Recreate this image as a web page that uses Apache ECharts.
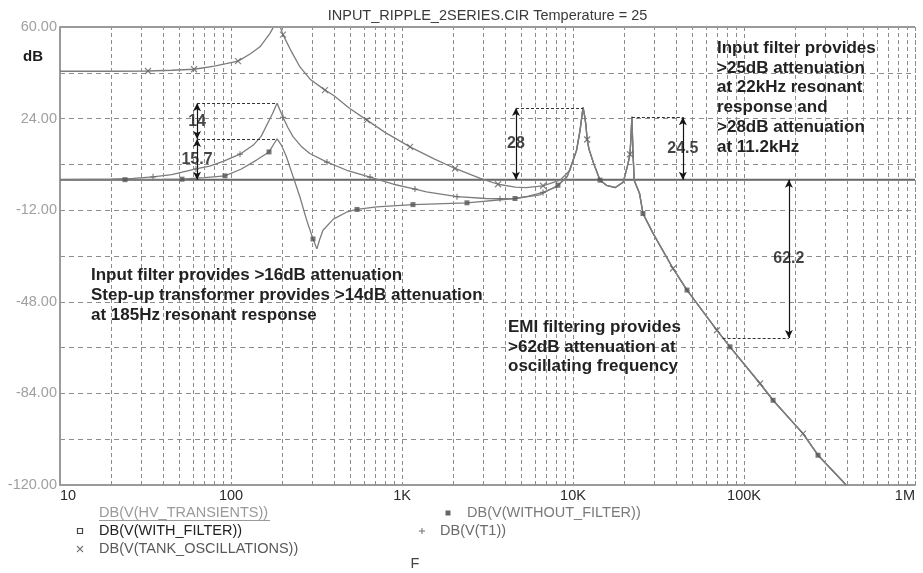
<!DOCTYPE html>
<html>
<head>
<meta charset="utf-8">
<script src="https://cdn.jsdelivr.net/npm/echarts@6/dist/echarts.min.js"></script>
<style>
html,body{margin:0;padding:0;background:#fff;}
#chart{width:923px;height:573px;}
</style>
</head>
<body>
<div id="chart"></div>
<script>
// ---------- DATA (frequency Hz, dB) ----------
const hvTransients = [[10, 0], [1000000, 0]];
const withFilter = [[10, 0], [1000000, 0]];

const tankHead = [[10,42.6],[20,42.6],[32.7,42.7],[45,43.0],[60.8,43.4],[80,44.6],[109.9,46.6],[130,49.5],[147.8,52.2],[169,57.5],[179,60.5],[186,64],[193,60.5],[201.4,57],[225,50.5],[253,44.3],[290,39.5],[354.6,35.2],[397,33.2],[495,28],[624,23.4],[800,18.5],[1114,12.9],[1530,8.3],[2042,4.4],[2870,0.5],[3642,-1.8],[4600,-2.9],[5300,-3.1],[6677,-2.4],[8400,-0.2],[9600,3.7]];

const t1Head = [[10,0],[20,0.2],[26.8,0.5],[35,1.1],[45,2.0],[62.4,4.2],[75,5.3],[90,7.2],[112.9,10],[135,13.6],[150,17],[161.7,21.4],[175,26],[186,30],[197,26],[201.4,24.5],[215,20.5],[231,16.8],[260,12.8],[289,10.3],[364,6.9],[476,3.7],[650,1.0],[891,-1.8],[1191,-3.7],[1390,-4.8],[2097,-6.7],[3100,-7.4],[3741,-7.5],[4600,-7.4],[5500,-6.5],[6677,-5.0],[8000,-2.8],[9200,0.9]];

const withoutHead = [[10,0],[24,0],[40,0.1],[51.7,0.2],[70,0.8],[92.2,1.5],[115,4.2],[141,7.7],[166.8,10.9],[180,14.5],[186,16],[197,13.6],[211,9],[231,1.1],[253,-6.8],[277,-15.9],[301.7,-23.3],[318,-27.2],[330,-23.5],[345,-19.9],[397,-15.5],[476,-12.7],[545.6,-11.7],[712,-10.7],[1159,-9.8],[2399,-9.1],[4580,-7.4],[6400,-6.0],[8166,-2.2],[9300,1.5]];

// shared high-frequency section where the three traces coincide
const sharedTail = [[10000,7.5],[10500,11.6],[11000,19.5],[11300,25.5],[11450,28.4],[11700,25],[11900,21.5],[12100,15.8],[12400,12],[13200,6.4],[14390,-0.2],[15700,-2.2],[17700,-3.1],[19700,-0.9],[21000,6.4],[21540,10],[21800,16],[22100,24.7],[22400,11.6],[22800,-0.2],[24500,-5.4],[25650,-13.3],[29400,-21.1],[38440,-34.9],[46440,-43.4],[69500,-59.2],[82800,-65.7],[124100,-80.1],[147900,-86.7],[221400,-99.8],[271000,-108.3],[396000,-120]];

// frequencies of the data points that carry a marker symbol
const tankMarks = [32.7,60.8,109.9,201.4,354.6,624,1114,2042,3642,6677,12100,21540,38440,69500,124100,221400];
const t1Marks = [35,62.4,112.9,201.4,364,650,1191,2097,3741,6677];
const withoutMarks = [24,51.7,92.2,166.8,301.7,545.6,1159,2399,4580,8166,14390,25650,46440,82800,147900,271000];

// axis ticks
const xTickLabels = {10:'10',100:'100',1000:'1K',10000:'10K',100000:'100K',1000000:'1M'};
const minorMultipliers = [2,3,4,5,6,7,8,9];
const decades = [10,100,1000,10000,100000];

// dimension annotations: [freq, dBtop, dBbottom, label, labelDb]
const dims = [[63.3,30,16,'14',23],[63.3,16,0,'15.7',8],[4640,28.2,0,'28',14],[43900,24.5,0,'24.5',12.25],[183000,0,-62.2,'62.2',-31.1]];
// dashed leaders: [freqFrom, freqTo, dB]
const leaders = [[63.3,186,30],[63.3,186,16],[4640,11450,28.2],[22100,43900,24.5],[75000,183000,-62.2]];

// ---------- BUILD ----------
const tank = tankHead.concat(sharedTail);
const t1 = t1Head.concat(sharedTail);
const without = withoutHead.concat(sharedTail);
const pick = (arr, marks) => arr.filter(p => marks.indexOf(p[0]) >= 0);

const LINE = '#7c7c7c';
const FONT = '"Liberation Sans", Arial, sans-serif';

const minorGrid = [];
decades.forEach(d => minorMultipliers.forEach(m => minorGrid.push({xAxis: d*m})));
minorGrid.push({xAxis: 1000000});

const chart = echarts.init(document.getElementById('chart'), null, {renderer:'canvas'});
const option = {
  animation: false,
  backgroundColor: '#fff',
  grid: {left: 60, right: 8, top: 27, bottom: 88, containLabel: false},
  xAxis: {
    type: 'log', logBase: 10, min: 10, max: 1000000,
    axisLine: {show: true, onZero: false, lineStyle: {color: '#9a9a9a', width: 2}},
    axisTick: {show: false},
    axisLabel: {
      color: '#2a2a2a', fontSize: 14.5, fontFamily: FONT, margin: 3,
      alignMinLabel: 'left', alignMaxLabel: 'right',
      formatter: v => xTickLabels[Math.round(v)] || ''
    },
    splitLine: {show: true, lineStyle: {color: '#8c8c8c', width: 1, type: [4,3]}},
    minorTick: {show: false}, minorSplitLine: {show: false}
  },
  yAxis: {
    type: 'value', min: -120, max: 60, interval: 18,
    axisLine: {show: true, lineStyle: {color: '#9a9a9a', width: 2}},
    axisTick: {show: false},
    axisLabel: {
      color: '#a0a0a0', fontSize: 14.5, fontFamily: FONT, margin: 3,
      formatter: v => (Math.round(v + 120) % 36 === 0) ? v.toFixed(2) : ''
    },
    splitLine: {show: true, lineStyle: {color: '#8c8c8c', width: 1, type: [5,4]}}
  },
  series: [
    {
      name: 'DB(V(HV_TRANSIENTS))', type: 'line', data: hvTransients, symbol: 'none', z: 3,
      lineStyle: {color: '#6a6a6a', width: 2},
      markLine: {
        silent: true, symbol: 'none', label: {show: false}, animation: false,
        lineStyle: {color: '#8c8c8c', width: 1, type: [4,3]},
        data: minorGrid.concat([{yAxis: 60, lineStyle: {color: '#9a9a9a', width: 2, type: 'solid'}}])
      }
    },
    {name: 'DB(V(WITH_FILTER))', type: 'line', data: withFilter, symbol: 'none', z: 3, lineStyle: {color: '#6a6a6a', width: 1}},
    {name: 'DB(V(TANK_OSCILLATIONS))', type: 'line', data: tank, symbol: 'none', z: 4, lineStyle: {color: LINE, width: 1.3}},
    {name: 'DB(V(WITHOUT_FILTER))', type: 'line', data: without, symbol: 'none', z: 4, lineStyle: {color: LINE, width: 1.3}},
    {name: 'DB(V(T1))', type: 'line', data: t1, symbol: 'none', z: 4, lineStyle: {color: LINE, width: 1.3}},
    {type: 'scatter', data: pick(tank, tankMarks), symbol: 'path://M0,0L1,1M1,0L0,1', symbolSize: 6, z: 6,
      itemStyle: {color: 'rgba(0,0,0,0)', borderColor: '#666', borderWidth: 1.2}},
    {type: 'scatter', data: pick(t1, t1Marks), symbol: 'path://M0,0.5L1,0.5M0.5,0L0.5,1', symbolSize: 6, z: 6,
      itemStyle: {color: 'rgba(0,0,0,0)', borderColor: '#666', borderWidth: 1.2}},
    {type: 'scatter', data: pick(without, withoutMarks), symbol: 'rect', symbolSize: 5, z: 6,
      itemStyle: {color: '#555'}},
    {
      type: 'scatter', z: 8, symbolSize: 1, itemStyle: {color: 'rgba(0,0,0,0)'},
      data: dims.map(d => [d[0], d[4], d[3]]),
      label: {show: true, position: 'inside', formatter: p => p.value[2], color: '#151515',
        fontSize: 16, fontWeight: 'bold', fontFamily: FONT},
      markLine: {
        silent: true, animation: false, label: {show: false},
        data: dims.map(d => [
          {coord: [d[0], d[1]], symbol: 'arrow', symbolSize: [6, 8], lineStyle: {color: '#151515', width: 1.2, type: 'solid'}},
          {coord: [d[0], d[2]], symbol: 'arrow', symbolSize: [6, 8]}
        ]).concat(leaders.map(l => [
          {coord: [l[0], l[2]], symbol: 'none', lineStyle: {color: '#333', width: 1, type: [3,2]}},
          {coord: [l[1], l[2]], symbol: 'none'}
        ]))
      }
    }
  ],
  graphic: [
    {type: 'text', x: 487.5, y: 16, style: {text: 'INPUT_RIPPLE_2SERIES.CIR Temperature = 25', fill: '#3a3a3a',
      font: '14.5px ' + FONT, align: 'center', verticalAlign: 'middle'}},
    {type: 'text', x: 33, y: 57, style: {text: 'dB', fill: '#1a1a1a', font: 'bold 15px ' + FONT, align: 'center', verticalAlign: 'middle'}},
    {type: 'text', x: 717, y: 38.5, z: 10, style: {text: 'Input filter provides\n>25dB attenuation\nat 22kHz resonant\nresponse and\n>28dB attenuation\nat 11.2kHz',
      fill: '#222', font: 'bold 17px ' + FONT, lineHeight: 19.7, verticalAlign: 'top'}},
    {type: 'text', x: 91, y: 265, z: 10, style: {text: 'Input filter provides >16dB attenuation\nStep-up transformer provides >14dB attenuation\nat 185Hz resonant response',
      fill: '#222', font: 'bold 17px ' + FONT, lineHeight: 20, verticalAlign: 'top'}},
    {type: 'text', x: 508, y: 318, z: 10, style: {text: 'EMI filtering provides\n>62dB attenuation at\noscillating frequency',
      fill: '#222', font: 'bold 17px ' + FONT, lineHeight: 19.5, verticalAlign: 'top'}},
    // legend
    {type: 'text', x: 99, y: 513, style: {text: 'DB(V(HV_TRANSIENTS))', fill: '#9a9a9a', font: '14.5px ' + FONT, verticalAlign: 'middle'}},
    {type: 'line', shape: {x1: 99, y1: 520.5, x2: 270, y2: 520.5}, style: {stroke: '#9a9a9a', lineWidth: 1}},
    {type: 'rect', shape: {x: 77.5, y: 528.5, width: 5, height: 5}, style: {fill: '#fff', stroke: '#444', lineWidth: 1.2}},
    {type: 'text', x: 99, y: 531, style: {text: 'DB(V(WITH_FILTER))', fill: '#222', font: '14.5px ' + FONT, verticalAlign: 'middle'}},
    {type: 'line', shape: {x1: 77, y1: 546, x2: 83, y2: 552}, style: {stroke: '#777', lineWidth: 1.1}},
    {type: 'line', shape: {x1: 83, y1: 546, x2: 77, y2: 552}, style: {stroke: '#777', lineWidth: 1.1}},
    {type: 'text', x: 99, y: 549, style: {text: 'DB(V(TANK_OSCILLATIONS))', fill: '#5a5a5a', font: '14.5px ' + FONT, verticalAlign: 'middle'}},
    {type: 'rect', shape: {x: 445.5, y: 510.5, width: 5, height: 5}, style: {fill: '#666'}},
    {type: 'text', x: 467, y: 513, style: {text: 'DB(V(WITHOUT_FILTER))', fill: '#7a7a7a', font: '14.5px ' + FONT, verticalAlign: 'middle'}},
    {type: 'line', shape: {x1: 419, y1: 531, x2: 425, y2: 531}, style: {stroke: '#777', lineWidth: 1.1}},
    {type: 'line', shape: {x1: 422, y1: 528, x2: 422, y2: 534}, style: {stroke: '#777', lineWidth: 1.1}},
    {type: 'text', x: 440, y: 531, style: {text: 'DB(V(T1))', fill: '#6a6a6a', font: '14.5px ' + FONT, verticalAlign: 'middle'}},
    {type: 'text', x: 415, y: 564, style: {text: 'F', fill: '#444', font: '14.5px ' + FONT, align: 'center', verticalAlign: 'middle'}}
  ]
};
chart.setOption(option);
</script>
</body>
</html>
